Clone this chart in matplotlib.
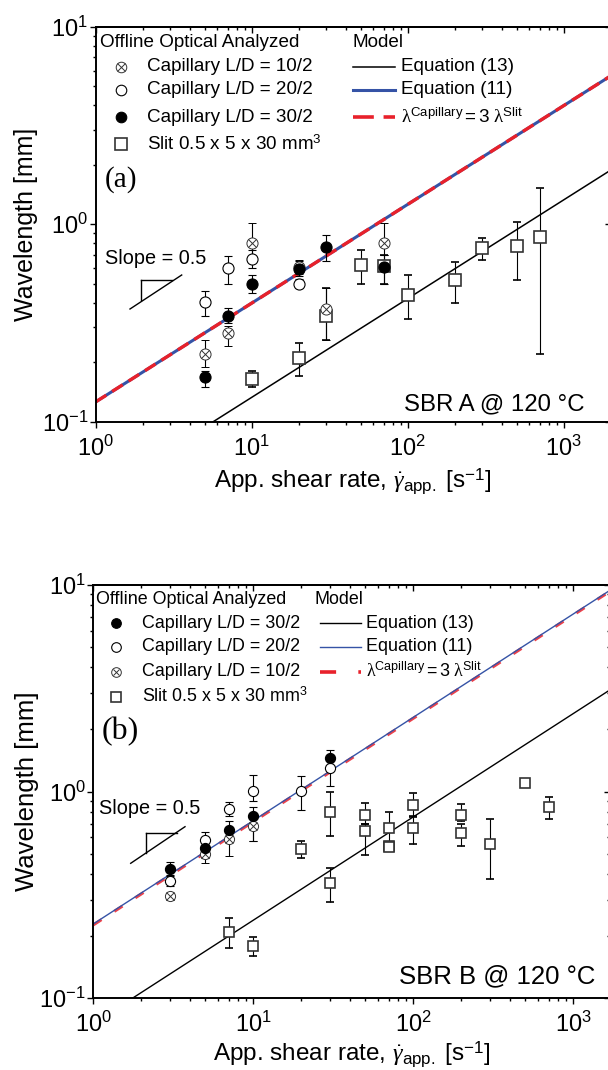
import numpy as np
import matplotlib.pyplot as plt
from matplotlib.lines import Line2D
from matplotlib.ticker import LogLocator, NullFormatter

plt.rcParams['font.family'] = 'Liberation Sans'
plt.rcParams['mathtext.fontset'] = 'custom'
plt.rcParams['mathtext.rm'] = 'Liberation Sans'
plt.rcParams['mathtext.it'] = 'Liberation Serif:italic'
plt.rcParams['mathtext.sf'] = 'Liberation Serif'
plt.rcParams['mathtext.bf'] = 'Liberation Sans:bold'
plt.rcParams['lines.scale_dashes'] = False

# model lines (power law, drawn between the two end shear rates)
gamma_model = [1, 2000]
a_eq13 = [0.042, 1.878]
a_eq11 = [0.126, 5.635]
b_eq13 = [0.0755, 3.376]
b_eq11 = [0.229, 10.24]

# SBR A, capillary L/D = 10/2
a_c10_x = [5, 7, 10, 20, 30, 70]
a_c10_y = [0.221, 0.28, 0.805, 0.61, 0.374, 0.805]
a_c10_lo = [0.19, 0.241, 0.66, 0.56, 0.26, 0.70]
a_c10_hi = [0.259, 0.305, 1.01, 0.66, 0.474, 1.01]
# SBR A, capillary L/D = 20/2
a_c20_x = [5, 7, 10, 20]
a_c20_y = [0.405, 0.60, 0.665, 0.50]
a_c20_lo = [0.343, 0.50, 0.60, 0.475]
a_c20_hi = [0.461, 0.69, 0.74, 0.525]
# SBR A, capillary L/D = 30/2
a_c30_x = [5, 7, 10, 20, 30, 70]
a_c30_y = [0.169, 0.344, 0.50, 0.595, 0.765, 0.605]
a_c30_lo = [0.149, 0.316, 0.45, 0.545, 0.65, 0.50]
a_c30_hi = [0.18, 0.378, 0.55, 0.65, 0.88, 0.70]
# SBR A, slit die
a_sl_x = [10, 20, 30, 50, 70, 100, 200, 300, 500, 700]
a_sl_y = [0.165, 0.21, 0.343, 0.625, 0.615, 0.44, 0.52, 0.755, 0.776, 0.865]
a_sl_lo = [0.15, 0.171, 0.26, 0.50, 0.50, 0.33, 0.40, 0.655, 0.52, 0.22]
a_sl_hi = [0.18, 0.25, 0.474, 0.74, 0.70, 0.55, 0.64, 0.855, 1.03, 1.52]

# SBR B, capillary L/D = 30/2
b_c30_x = [3, 5, 7, 10, 30]
b_c30_y = [0.421, 0.532, 0.652, 0.762, 1.46]
b_c30_lo = [0.39, 0.48, 0.57, 0.579, 1.32]
b_c30_hi = [0.455, 0.58, 0.72, 0.84, 1.59]
# SBR B, capillary L/D = 20/2
b_c20_x = [3, 5, 7, 10, 20, 30]
b_c20_y = [0.371, 0.583, 0.821, 1.007, 1.007, 1.306]
b_c20_lo = [0.35, 0.53, 0.76, 0.90, 0.815, 1.065]
b_c20_hi = [0.395, 0.64, 0.894, 1.204, 1.19, 1.45]
# SBR B, capillary L/D = 10/2
b_c10_x = [3, 5, 7, 10]
b_c10_y = [0.313, 0.499, 0.588, 0.682]
b_c10_lo = [0.298, 0.45, 0.49, 0.58]
b_c10_hi = [0.325, 0.54, 0.66, 0.76]
# SBR B, slit die
b_sl_x = [7, 10, 20, 30, 30, 50, 50, 70, 70, 70, 100, 100, 200, 200, 300, 500, 700]
b_sl_y = [0.2086, 0.179, 0.53, 0.797, 0.36, 0.771, 0.645, 0.665, 0.548, 0.538,
          0.862, 0.665, 0.771, 0.629, 0.558, 1.098, 0.84]
b_sl_lo = [0.1746, 0.160, 0.476, 0.61, 0.292, 0.70, 0.494, 0.56, 0.54, 0.53,
           0.76, 0.556, 0.72, 0.546, 0.3765, 1.098, 0.737]
b_sl_hi = [0.2438, 0.197, 0.579, 0.993, 0.426, 0.878, 0.70, 0.795, 0.556, 0.546,
           0.982, 0.75, 0.869, 0.70, 0.737, 1.098, 0.945]

W, H = 608, 1070
BLUE = '#3553a6'
RED = '#e8212b'
SQ_EDGE = '#333333'
CROSS_EDGE = '#333333'


def fx(px):
    return px / W


def fy(py):
    return 1 - py / H


def marker_style(kind, ms):
    if kind == 'filled':
        return dict(marker='o', ms=ms, mfc='black', mec='black', mew=0.8)
    if kind == 'open':
        return dict(marker='o', ms=ms, mfc='white', mec='black', mew=0.8)
    if kind == 'crossed':
        return dict(marker='o', ms=ms, mfc='white', mec=CROSS_EDGE, mew=0.7)
    return dict(marker='s', ms=ms * 1.05, mfc='white', mec=SQ_EDGE, mew=1.2)


def plot_series(ax, x, y, lo, hi, kind, ms, cap):
    y = np.array(y)
    err = [y - np.array(lo), np.array(hi) - y]
    ax.errorbar(x, y, yerr=err, ls='none', ecolor='black', elinewidth=0.8,
                capsize=cap, capthick=0.8, zorder=3, **marker_style(kind, ms))
    if kind == 'crossed':
        ax.plot(x, y, ls='none', marker='x', ms=ms * 0.7, mec=CROSS_EDGE,
                mew=0.7, zorder=3.1)


def setup_axes(ax, xmax):
    ax.set_xscale('log')
    ax.set_yscale('log')
    ax.set_xlim(1, xmax)
    ax.set_ylim(0.1, 10)
    for sp in ax.spines.values():
        sp.set_linewidth(1.4)
    for axis in (ax.xaxis, ax.yaxis):
        axis.set_major_locator(LogLocator(base=10, numticks=10))
        axis.set_minor_locator(LogLocator(base=10, subs=np.arange(2, 10), numticks=30))
        axis.set_minor_formatter(NullFormatter())
    ax.tick_params(which='both', direction='out', width=1.0, labelsize=17,
                   top=False, right=False)
    ax.tick_params(which='major', length=4)
    ax.tick_params(which='minor', length=2.3)
    ax.tick_params(axis='x', pad=6)
    ax.tick_params(axis='y', pad=1.5)

    top = ax.secondary_xaxis('top')
    right = ax.secondary_yaxis('right')
    for sec, axis in ((top, top.xaxis), (right, right.yaxis)):
        axis.set_major_locator(LogLocator(base=10, numticks=10))
        axis.set_minor_locator(LogLocator(base=10, subs=np.arange(2, 10), numticks=30))
        axis.set_major_formatter(NullFormatter())
        axis.set_minor_formatter(NullFormatter())
        sec.tick_params(which='both', direction='in', width=1.0)
        sec.tick_params(which='major', length=4.6)
        sec.tick_params(which='minor', length=2.2)
        for sp in sec.spines.values():
            sp.set_linewidth(1.4)


def legend_block(fig, title_xy, rows_x, rows_y, text_x, kinds, labels, ms, fs):
    fig.text(fx(title_xy[0]), fy(title_xy[1]), 'Offline Optical Analyzed',
             fontsize=fs, ha='left', va='center')
    for yy, kind, lab in zip(rows_y, kinds, labels):
        fig.add_artist(Line2D([fx(rows_x)], [fy(yy)], transform=fig.transFigure,
                              ls='none', **marker_style(kind, ms * 0.95)))
        if kind == 'crossed':
            fig.add_artist(Line2D([fx(rows_x)], [fy(yy)], transform=fig.transFigure,
                                  ls='none', marker='x', ms=ms * 0.95 * 0.7,
                                  mec=CROSS_EDGE, mew=0.7))
        fig.text(fx(text_x), fy(yy), lab, fontsize=fs, ha='left', va='center')


def model_block(fig, title_xy, x0, x1, text_x, rows_y, styles, fs):
    fig.text(fx(title_xy[0]), fy(title_xy[1]), 'Model', fontsize=fs,
             ha='left', va='center')
    labels = ['Equation (13)', 'Equation (11)',
              r'$\mathsf{\lambda}^{\mathrm{Capillary}} = 3\ \mathsf{\lambda}^{\mathrm{Slit}}$']
    for yy, st, lab in zip(rows_y, styles, labels):
        fig.add_artist(Line2D([fx(x0), fx(x1)], [fy(yy), fy(yy)],
                              transform=fig.transFigure, **st))
        fig.text(fx(text_x), fy(yy), lab, fontsize=fs, ha='left', va='center')


def slope_mark(fig, text_xy, hline, vline, diag, fs):
    fig.text(fx(text_xy[0]), fy(text_xy[1]), 'Slope = 0.5', fontsize=fs,
             ha='left', va='center')
    for seg in (hline, vline, diag):
        fig.add_artist(Line2D([fx(seg[0]), fx(seg[2])], [fy(seg[1]), fy(seg[3])],
                              transform=fig.transFigure, color='black', lw=1.0))


xlabel = r'App. shear rate, $\dot{\gamma}_{\mathrm{app.}}$ [s$^{-1}$]'

fig = plt.figure(figsize=(W / 100, H / 100), dpi=100)

# ---------------- (a) SBR A ----------------
xmax_a = 2000
ax_a = fig.add_axes([fx(95.7), fy(421.7), 156 * np.log10(xmax_a) / W, 395.0 / H])
setup_axes(ax_a, xmax_a)

ax_a.plot(gamma_model, a_eq13, color='black', lw=1.1, zorder=2)
ax_a.plot(gamma_model, a_eq11, color=BLUE, lw=2.2, zorder=2)
ax_a.plot(gamma_model, 3 * np.array(a_eq13), color=RED, lw=2.4,
          dashes=(9, 5), zorder=2.1)

plot_series(ax_a, a_sl_x, a_sl_y, a_sl_lo, a_sl_hi, 'slit', 8.2, 3)
plot_series(ax_a, a_c10_x, a_c10_y, a_c10_lo, a_c10_hi, 'crossed', 8, 3)
plot_series(ax_a, a_c20_x, a_c20_y, a_c20_lo, a_c20_hi, 'open', 8, 3)
plot_series(ax_a, a_c30_x, a_c30_y, a_c30_lo, a_c30_hi, 'filled', 8, 3)

ax_a.set_xlabel(xlabel, fontsize=17.5)
ax_a.set_ylabel('Wavelength [mm]', fontsize=18)
ax_a.xaxis.set_label_coords(0.5, -0.112)
ax_a.yaxis.set_label_coords(-0.112, 0.5)

legend_block(fig, (100, 42.7), 121, [66.7, 90, 117.3, 144.3], 147,
             ['crossed', 'open', 'filled', 'slit'],
             ['Capillary L/D = 10/2', 'Capillary L/D = 20/2',
              'Capillary L/D = 30/2', r'Slit 0.5 x 5 x 30 mm$^{3}$'], 8, 13.6)
model_block(fig, (352, 42.7), 353, 395.5, 401, [66.7, 90, 117.3],
            [dict(color='black', lw=1.1), dict(color=BLUE, lw=2.2),
             dict(color=RED, lw=2.6, dashes=(15, 7))], 13.6)
fig.text(fx(104.7), fy(180), '(a)', fontsize=21, family='Liberation Serif',
         ha='left', va='center')
slope_mark(fig, (105, 259), (140.7, 280, 171.7, 280), (140.7, 280, 140.7, 300),
           (130, 309, 181.7, 275), 14.3)
fig.text(fx(584), fy(404), 'SBR A @ 120 °C', fontsize=17.3, ha='right', va='center')

# ---------------- (b) SBR B ----------------
xmax_b = 1700
ax_b = fig.add_axes([fx(93.3), fy(998.3), 160 * np.log10(xmax_b) / W, 413.3 / H])
setup_axes(ax_b, xmax_b)

ax_b.plot(gamma_model, b_eq13, color='black', lw=1.0, zorder=2)
ax_b.plot(gamma_model, 3 * np.array(b_eq13), color=RED, lw=2.2,
          dashes=(7, 11), alpha=0.85, zorder=2)
ax_b.plot(gamma_model, b_eq11, color=BLUE, lw=1.0, zorder=2.1)

plot_series(ax_b, b_sl_x, b_sl_y, b_sl_lo, b_sl_hi, 'slit', 7.4, 2.6)
plot_series(ax_b, b_c10_x, b_c10_y, b_c10_lo, b_c10_hi, 'crossed', 7.3, 2.6)
plot_series(ax_b, b_c20_x, b_c20_y, b_c20_lo, b_c20_hi, 'open', 7.3, 2.6)
plot_series(ax_b, b_c30_x, b_c30_y, b_c30_lo, b_c30_hi, 'filled', 7.3, 2.6)

ax_b.set_xlabel(xlabel, fontsize=17.5)
ax_b.set_ylabel('Wavelength [mm]', fontsize=18.5)
ax_b.xaxis.set_label_coords(0.5, -0.1)
ax_b.yaxis.set_label_coords(-0.105, 0.5)

legend_block(fig, (96.2, 600), 116.3, [623.3, 646.7, 671.7, 696.7], 141.5,
             ['filled', 'open', 'crossed', 'slit'],
             ['Capillary L/D = 30/2', 'Capillary L/D = 20/2',
              'Capillary L/D = 10/2', r'Slit 0.5 x 5 x 30 mm$^{3}$'], 7.3, 12.9)
model_block(fig, (314.8, 600), 320.3, 360.6, 366.4, [623.3, 646.7, 671.7],
            [dict(color='black', lw=1.0), dict(color=BLUE, lw=1.0),
             dict(color=RED, lw=2.6, dashes=(11.6, 16))], 12.9)
fig.text(fx(101.7), fy(731.7), '(b)', fontsize=23, family='Liberation Serif',
         ha='left', va='center')
slope_mark(fig, (99.3, 808.3), (146, 833.3, 176.7, 833.3), (146, 833.3, 146, 853.3),
           (130.7, 863.3, 185, 826.7), 14.3)
fig.text(fx(595.3), fy(976.7), 'SBR B @ 120 °C', fontsize=18.5, ha='right', va='center')

fig.savefig('out.png', dpi=100)
